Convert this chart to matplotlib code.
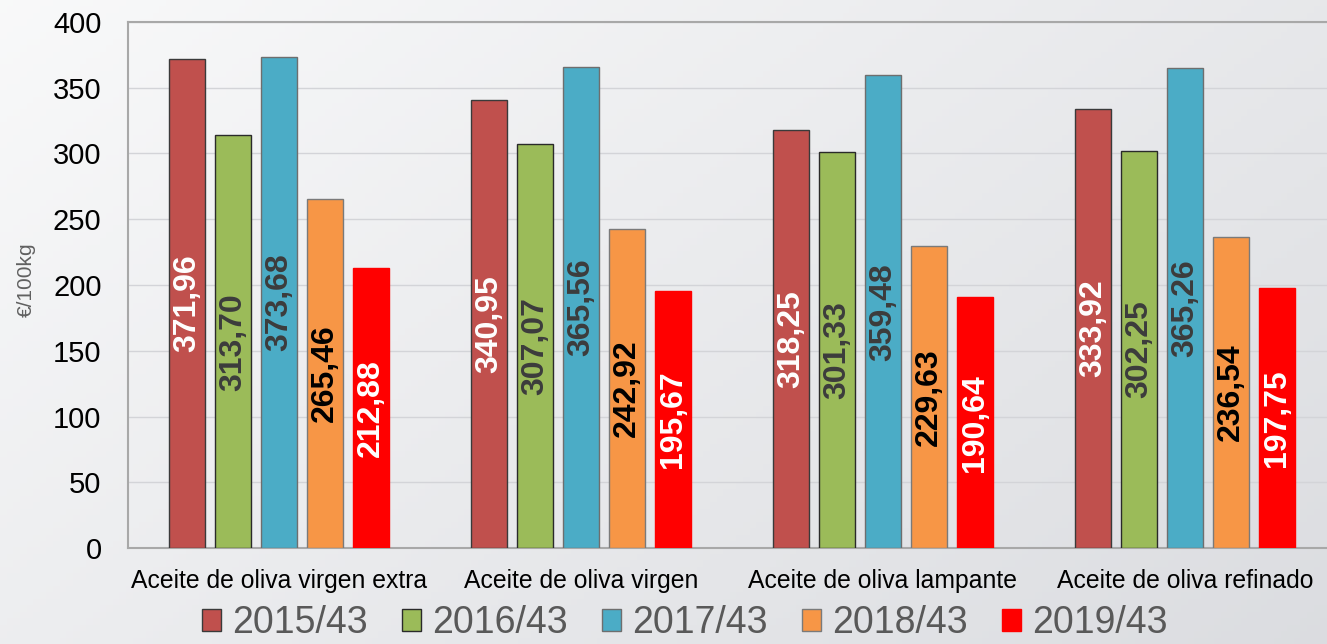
import numpy as np
import matplotlib
matplotlib.use("Agg")
import matplotlib.pyplot as plt

plt.rcParams['font.family'] = ['Liberation Sans', 'DejaVu Sans']

# --- data ---
categories = ["Aceite de oliva virgen extra", "Aceite de oliva virgen",
              "Aceite de oliva lampante", "Aceite de oliva refinado"]
series_names = ["2015/43", "2016/43", "2017/43", "2018/43", "2019/43"]
v2015 = [371.96, 340.95, 318.25, 333.92]
v2016 = [313.70, 307.07, 301.33, 302.25]
v2017 = [373.68, 365.56, 359.48, 365.26]
v2018 = [265.46, 242.92, 229.63, 236.54]
v2019 = [212.88, 195.67, 190.64, 197.75]
values = [v2015, v2016, v2017, v2018, v2019]

# --- style ---
fills = ["#c0504d", "#9bbb59", "#4bacc6", "#f79646", "#ff0000"]
edges = ["#3a3a3a", "#2a2a2a", "#6e6e6e", "#7a7a7a", "#ff0000"]
label_colors = ["white", "#3c3c3c", "#3c3c3c", "black", "white"]

W, H = 1327, 644
fig = plt.figure(figsize=(W / 100, H / 100), dpi=100)

# gradient background
bg = fig.add_axes([0, 0, 1, 1], zorder=-10)
gx, gy = np.meshgrid(np.linspace(0, 1, 200), np.linspace(0, 1, 100))
t = (gx * 0.6 + gy * 0.4)
c0 = np.array([0.975, 0.977, 0.98])
c1 = np.array([0.86, 0.865, 0.88])
img = c0[None, None, :] * (1 - t[..., None]) + c1[None, None, :] * t[..., None]
bg.imshow(img, aspect="auto", extent=[0, 1, 0, 1])
bg.axis("off")

left, right, bottom, top = 128, 1336, 548, 22
ax = fig.add_axes([left / W, (H - bottom) / H, (right - left) / W, (bottom - top) / H])
ax.set_facecolor("none")

x = np.arange(len(categories))
step = 0.152
width = 0.12
bars = []
for i, (name, vals) in enumerate(zip(series_names, values)):
    pos = x + (i - 2) * step
    b = ax.bar(pos, vals, width, color=fills[i], edgecolor=edges[i], linewidth=1.0,
               label=name, zorder=3)
    bars.append(b)
    for px, v in zip(pos, vals):
        ax.text(px, v / 2, f"{v:.2f}".replace(".", ","), rotation=90,
                ha="center", va="center", fontsize=23, fontweight="bold",
                color=label_colors[i], zorder=4)

ax.set_xlim(-0.5, 3.5)
ax.set_ylim(0, 400)
ax.set_yticks(np.arange(0, 401, 50))
ax.yaxis.grid(True, color="#d3d4d8", linewidth=1.0, zorder=0)
ax.set_axisbelow(True)
ax.tick_params(axis="y", length=0, pad=19, labelsize=21)
ax.set_xticks(x)
ax.set_xticklabels(categories)
ax.tick_params(axis="x", length=0, pad=15, labelsize=17.8)
for s in ["left", "top", "bottom"]:
    ax.spines[s].set_color("#a8a8a8")
    ax.spines[s].set_linewidth(1.5)
ax.spines["right"].set_visible(False)

fig.text(26 / W, (H - 280) / H, "€/100kg", rotation=90, ha="center", va="center",
         fontsize=15, color="#606060")

leg = fig.legend(handles=bars, labels=series_names, ncol=5, loc="lower center",
                 bbox_to_anchor=(685 / W, -0.025), frameon=False,
                 prop={"size": 27},
                 handlelength=0.5, handleheight=0.55, handletextpad=0.3,
                 columnspacing=0.92, borderpad=0)
for txt in leg.get_texts():
    txt.set_color("#595959")

fig.savefig("out.png", dpi=100)
